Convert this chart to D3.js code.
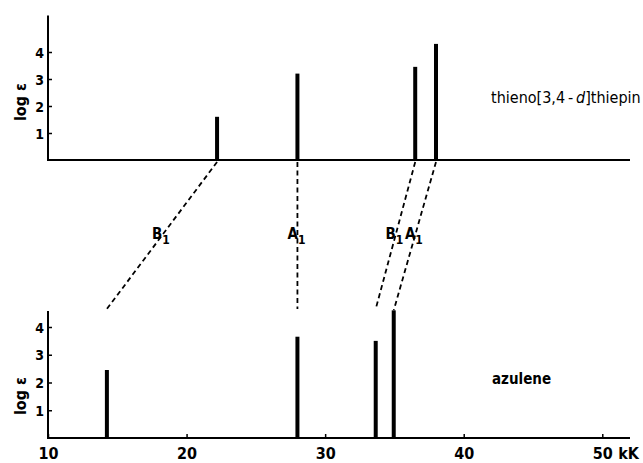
<!DOCTYPE html>
<html><head><meta charset="utf-8">
<script src="https://cdn.jsdelivr.net/npm/d3@7"></script>
<style>
body{margin:0;background:#fff;}
text{font-family:"DejaVu Sans Condensed","DejaVu Sans",sans-serif;font-weight:bold;fill:#000;}
</style></head>
<body><svg id="c" width="643" height="463"></svg>
<script>
const xTicks = [10, 20, 30, 40, 50];
const yTicks = [1, 2, 3, 4];
const thienoPos = [22.2, 28.0, 36.5, 38.0];
const thienoLog = [1.6, 3.2, 3.45, 4.3];
const azulenePos = [14.25, 28.0, 33.65, 34.95];
const azuleneLog = [2.45, 3.65, 3.5, 4.6];
const bandLabels = ["B", "A", "B", "A"];
const connectorEndLog = [4.65, 4.65, 4.65, 4.6];
const topName = "thieno[3,4\u2009-\u2009";
const unitLabel = "kK";

const svg = d3.select("#c");
const x = d3.scaleLinear().domain([10, 52]).range([48, 630]);
const yTop = d3.scaleLinear().domain([0, 4]).range([160, 52]);
const yBot = d3.scaleLinear().domain([0, 4]).range([438, 327]);

function panel(y, axisTopVal, pos, vals, showX, labelY) {
  const g = svg.append("g");
  const ya = d3.axisLeft(y).tickValues(yTicks).tickSizeInner(-4).tickSizeOuter(0).tickPadding(4).tickFormat(d3.format("d"));
  const ga = g.append("g").attr("transform", `translate(${x(10)},0)`).call(ya);
  ga.select(".domain").remove();
  ga.selectAll(".tick line").attr("stroke", "#000").attr("stroke-width", 1.5);
  ga.selectAll(".tick text").style("font-size", "14px").attr("dy", "0.36em");
  g.append("line").attr("x1", x(10)).attr("x2", x(10)).attr("y1", y(0) + 1).attr("y2", y(axisTopVal))
    .attr("stroke", "#000").attr("stroke-width", 2);
  g.append("line").attr("x1", x(10) - 1).attr("x2", x(52)).attr("y1", y(0)).attr("y2", y(0))
    .attr("stroke", "#000").attr("stroke-width", 2);
  if (showX) {
    const xa = d3.axisBottom(x).tickValues(xTicks).tickSizeInner(-4).tickSizeOuter(0).tickPadding(10).tickFormat(d3.format("d"));
    const gx = g.append("g").attr("transform", `translate(0,${y(0)})`).call(xa);
    gx.select(".domain").remove();
    gx.selectAll(".tick line").attr("stroke", "#000").attr("stroke-width", 1.5);
    gx.selectAll(".tick text").style("font-size", "16px");
    g.append("text").attr("x", x(50) + 16).attr("y", y(0) + 21).style("font-size", "16px").text(unitLabel);
  }
  g.selectAll("line.bar").data(pos).enter().append("line").attr("class", "bar")
    .attr("x1", d => x(d)).attr("x2", d => x(d))
    .attr("y1", y(0)).attr("y2", (d, i) => y(vals[i]))
    .attr("stroke", "#000").attr("stroke-width", 4);
  g.append("text").attr("transform", `translate(26,${labelY}) rotate(-90)`)
    .attr("text-anchor", "middle").style("font-size", "16px").text("log ε");
}

panel(yTop, 5.35, thienoPos, thienoLog, false, 102);
panel(yBot, 4.58, azulenePos, azuleneLog, true, 396);

const t1 = svg.append("text").attr("x", 491).attr("y", 103).style("font-size", "16px").style("font-weight", "normal");
t1.append("tspan").text(topName);
t1.append("tspan").style("font-style", "italic").text("d");
t1.append("tspan").text("]thiepin");
svg.append("text").attr("x", 492).attr("y", 384).style("font-size", "15px").text("azulene");

const conn = thienoPos.map((p, i) => ({
  x1: x(p), y1: yTop(0) + 2, x2: x(azulenePos[i]), y2: yBot(connectorEndLog[i]), lab: bandLabels[i]
}));
svg.selectAll("line.conn").data(conn).enter().append("line").attr("class", "conn")
  .attr("x1", d => d.x1).attr("y1", d => d.y1).attr("x2", d => d.x2).attr("y2", d => d.y2)
  .attr("stroke", "#000").attr("stroke-width", 1.8).attr("stroke-dasharray", "5,3.5");

const labs = svg.selectAll("g.lab").data(conn).enter().append("g").attr("class", "lab");
labs.each(function (d) {
  const mx = (d.x1 + d.x2) / 2;
  const tx = d3.select(this).append("text").attr("x", mx - 1).attr("y", 239).attr("text-anchor", "middle").style("font-size", "15px");
  tx.append("tspan").text(d.lab);
  tx.append("tspan").attr("dy", 5).style("font-size", "12px").text("1");
});
</script></body></html>
